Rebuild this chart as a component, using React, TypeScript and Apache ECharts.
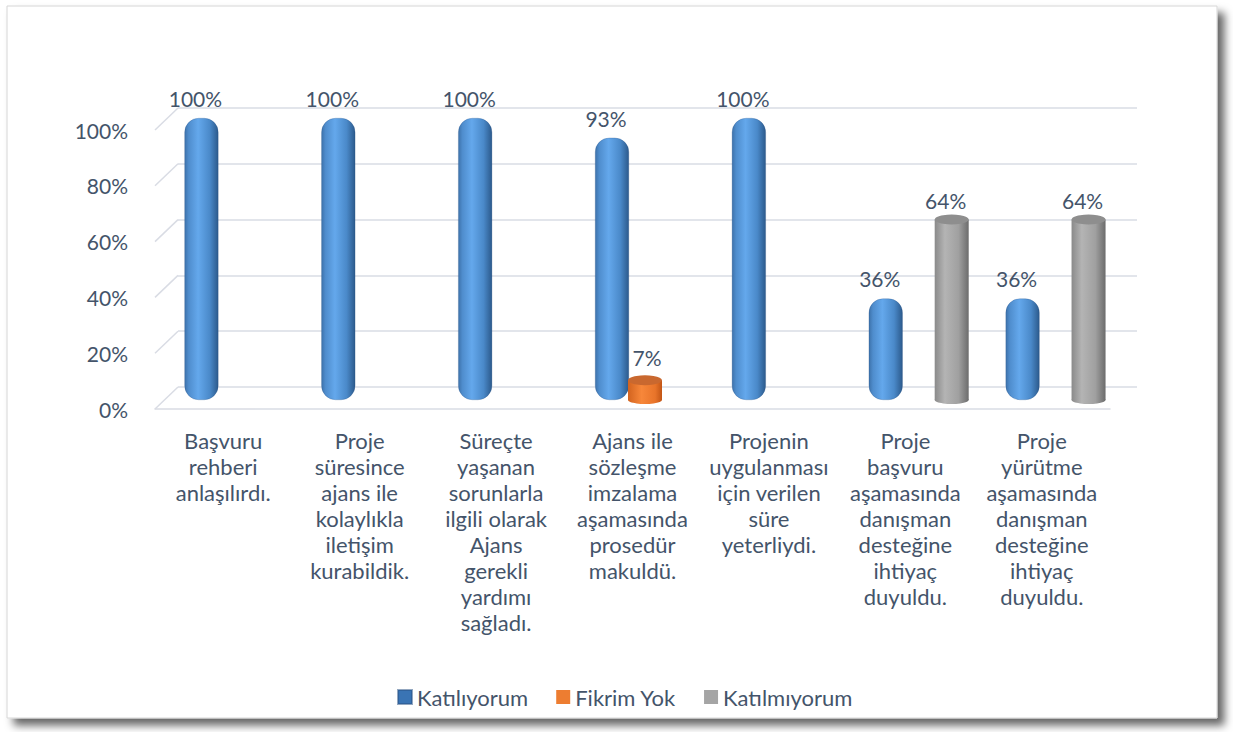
import React, { useEffect, useRef } from "react";
import * as echarts from "echarts";

const categories = [
  "Başvuru\nrehberi\nanlaşılırdı.",
  "Proje\nsüresince\najans ile\nkolaylıkla\niletişim\nkurabildik.",
  "Süreçte\nyaşanan\nsorunlarla\nilgili olarak\nAjans\ngerekli\nyardımı\nsağladı.",
  "Ajans ile\nsözleşme\nimzalama\naşamasında\nprosedür\nmakuldü.",
  "Projenin\nuygulanması\niçin verilen\nsüre\nyeterliydi.",
  "Proje\nbaşvuru\naşamasında\ndanışman\ndesteğine\nihtiyaç\nduyuldu.",
  "Proje\nyürütme\naşamasında\ndanışman\ndesteğine\nihtiyaç\nduyuldu.",
];
const seriesNames = ["Katılıyorum", "Fikrim Yok", "Katılmıyorum"];
const katiliyorum = [100, 100, 100, 93, 100, 36, 36];
const fikrimYok = [null, null, null, 7, null, null, null];
const katilmiyorum = [null, null, null, null, null, 64, 64];
const yTicks = [0, 20, 40, 60, 80, 100];

const FONT = "Lato";
const TEXT = "#44546a";
const GRIDC = "#d9dce4";
const NUM_SIZE = 21;
const TXT_SIZE = 22;

const lin = (stops: [number, string][]) => ({
  type: "linear",
  x: 0,
  y: 0,
  x2: 1,
  y2: 0,
  colorStops: stops.map(([offset, color]) => ({ offset, color })),
});

const blueFill = lin([
  [0, "#3d72ab"],
  [0.12, "#4f8dcd"],
  [0.4, "#64a8ec"],
  [0.75, "#4a89c9"],
  [1, "#2c5a8c"],
]);
const orangeFill = lin([
  [0, "#d2631f"],
  [0.4, "#f7873a"],
  [0.8, "#e8742a"],
  [1, "#c25515"],
]);
const grayFill = lin([
  [0, "#8a8a8a"],
  [0.3, "#b4b4b4"],
  [0.7, "#a0a0a0"],
  [1, "#6c6c6c"],
]);

export default function App() {
  const ref = useRef<HTMLDivElement>(null);
  useEffect(() => {
    if (!ref.current) return;
    const chart = echarts.init(ref.current, undefined, { renderer: "svg" });
    const BW = 34;
    const OFF = 33;
    const valueLabel = (distance: number, dx: number) => ({
      show: true,
      position: "top",
      distance,
      offset: [dx, 0],
      formatter: "{c}%",
      fontFamily: FONT,
      fontSize: NUM_SIZE,
      color: TEXT,
    });
    const option: any = {
      animation: false,
      backgroundColor: "#ffffff",
      textStyle: { fontFamily: FONT },
      graphic: [
        {
          type: "rect",
          z: -10,
          shape: { x: 7, y: 6, width: 1210, height: 712 },
          style: {
            fill: "#ffffff",
            stroke: "#d6d6d6",
            lineWidth: 1,
            shadowBlur: 9,
            shadowOffsetX: 7,
            shadowOffsetY: 7,
            shadowColor: "rgba(0,0,0,0.6)",
          },
        },
      ],
      legend: {
        left: 392,
        top: 681,
        itemWidth: 14,
        itemHeight: 14,
        itemGap: 28,
        icon: "rect",
        textStyle: { fontFamily: FONT, fontSize: TXT_SIZE, color: TEXT },
        data: [
          { name: seriesNames[0], itemStyle: { color: "#3a74b4" } },
          { name: seriesNames[1], itemStyle: { color: "#ed7d31" } },
          { name: seriesNames[2], itemStyle: { color: "#a5a5a5" } },
        ],
      },
      grid: [
        { left: 178, right: 96, top: 108, bottom: 345 },
        { left: 166, right: 109, top: 118, bottom: 332 },
        { left: 155, right: 123, top: 130, bottom: 323 },
      ],
      xAxis: [
        { type: "category", gridIndex: 0, data: categories, show: false },
        { type: "category", gridIndex: 1, data: categories, show: false },
        {
          type: "category",
          gridIndex: 2,
          data: categories,
          axisLine: { show: true, lineStyle: { color: GRIDC, width: 1.5 } },
          axisTick: { show: false },
          axisLabel: {
            interval: 0,
            margin: 18,
            fontFamily: FONT,
            fontSize: TXT_SIZE,
            lineHeight: 26,
            color: TEXT,
            align: "center",
            verticalAlign: "top",
          },
        },
        { type: "value", gridIndex: 2, min: 0, max: 1, show: false },
      ],
      yAxis: [
        {
          type: "value",
          gridIndex: 0,
          min: 0,
          max: 100,
          interval: 20,
          axisLabel: { show: false },
          axisLine: { show: false },
          axisTick: { show: false },
          splitLine: { show: true, lineStyle: { color: GRIDC, width: 1.5 } },
        },
        { type: "value", gridIndex: 1, min: 0, max: 100, interval: 20, show: false },
        {
          type: "value",
          gridIndex: 2,
          min: 0,
          max: 100,
          interval: 20,
          axisLine: { show: false },
          axisTick: { show: false },
          splitLine: { show: false },
          axisLabel: {
            margin: 27,
            fontFamily: FONT,
            fontSize: NUM_SIZE,
            color: TEXT,
            formatter: "{value}%",
          },
        },
      ],
      series: [
        {
          type: "custom",
          xAxisIndex: 3,
          yAxisIndex: 2,
          silent: true,
          data: yTicks.map((v) => [0, v]),
          renderItem: (params: any, api: any) => {
            const p = api.coord([api.value(0), api.value(1)]);
            return {
              type: "line",
              shape: { x1: p[0], y1: p[1], x2: p[0] + 23, y2: p[1] - 22 },
              style: { stroke: GRIDC, lineWidth: 1.5 },
            };
          },
          z: 1,
        },
        {
          name: seriesNames[0],
          type: "bar",
          xAxisIndex: 1,
          yAxisIndex: 1,
          data: katiliyorum,
          barWidth: BW,
          barGap: "-3%",
          itemStyle: {
            color: blueFill,
            borderRadius: 14,
            borderColor: "rgba(40,80,130,0.5)",
            borderWidth: 0.5,
          },
          label: valueLabel(9, -6),
          z: 2,
        },
        {
          name: seriesNames[1],
          type: "bar",
          xAxisIndex: 1,
          yAxisIndex: 1,
          data: fikrimYok,
          barWidth: BW,
          barGap: "-3%",
          itemStyle: { color: orangeFill },
          label: valueLabel(12, 2),
          z: 2,
        },
        {
          name: seriesNames[2],
          type: "bar",
          xAxisIndex: 1,
          yAxisIndex: 1,
          data: katilmiyorum,
          barWidth: BW,
          barGap: "-3%",
          itemStyle: { color: grayFill },
          label: valueLabel(9, -6),
          z: 2,
        },
        {
          type: "pictorialBar",
          xAxisIndex: 1,
          yAxisIndex: 1,
          silent: true,
          symbol: "circle",
          symbolSize: [BW, 8],
          symbolPosition: "start",
          symbolOffset: [0, "50%"],
          data: fikrimYok,
          itemStyle: { color: orangeFill },
          z: 1,
        },
        {
          type: "pictorialBar",
          xAxisIndex: 1,
          yAxisIndex: 1,
          silent: true,
          symbol: "circle",
          symbolSize: [BW, 10],
          symbolPosition: "end",
          symbolOffset: [0, "-50%"],
          data: fikrimYok,
          itemStyle: { color: "#c9682f" },
          z: 3,
        },
        {
          type: "pictorialBar",
          xAxisIndex: 1,
          yAxisIndex: 1,
          silent: true,
          symbol: "circle",
          symbolSize: [BW, 8],
          symbolPosition: "start",
          symbolOffset: [OFF, "50%"],
          data: katilmiyorum,
          itemStyle: { color: grayFill },
          z: 1,
        },
        {
          type: "pictorialBar",
          xAxisIndex: 1,
          yAxisIndex: 1,
          silent: true,
          symbol: "circle",
          symbolSize: [BW, 10],
          symbolPosition: "end",
          symbolOffset: [OFF, "-50%"],
          data: katilmiyorum,
          itemStyle: { color: "#8e8e8e" },
          z: 3,
        },
      ],
    };
    chart.setOption(option);
    return () => chart.dispose();
  }, []);
  return (
    <div
      ref={ref}
      style={{ position: "fixed", left: 0, top: 0, width: 1233, height: 732 }}
    />
  );
}
